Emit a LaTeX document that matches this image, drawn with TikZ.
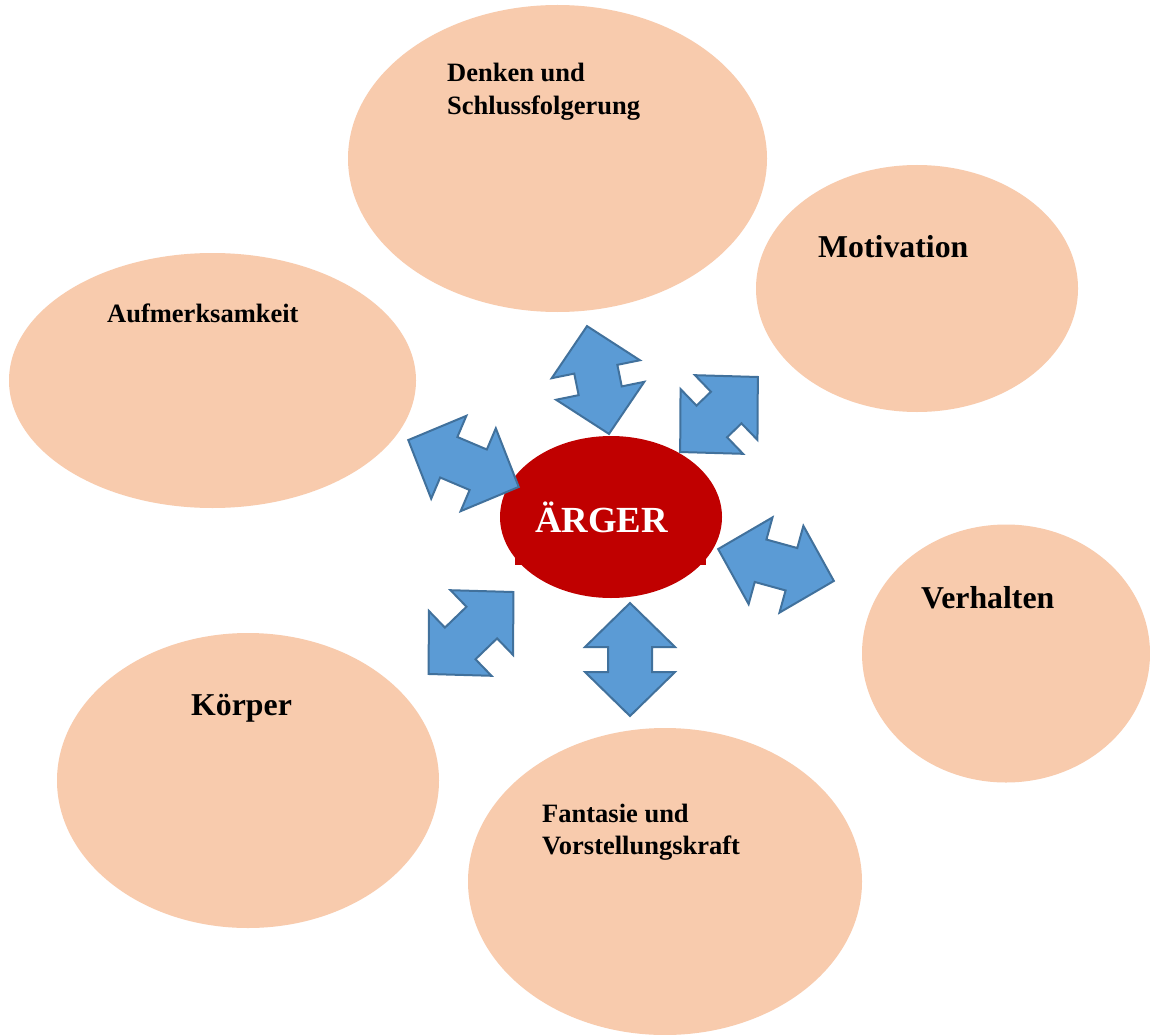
\documentclass[tikz,border=0pt]{standalone}
\usepackage{fontspec}
\setmainfont{Liberation Serif}
\definecolor{peach}{HTML}{F8CBAD}
\definecolor{angerred}{HTML}{C00000}
\definecolor{arrowfill}{HTML}{5B9BD5}
\definecolor{arrowline}{HTML}{41719C}
\tikzset{
  bubble/.style={fill=peach, draw=none},
  lbl/.style={anchor=base west, inner sep=0pt, font=\bfseries\fontsize{26.5}{32.5}\selectfont, align=left},
  biglbl/.style={anchor=base west, inner sep=0pt, font=\bfseries\fontsize{31.8}{36}\selectfont},
  arrowbody/.style={fill=arrowfill, draw=arrowline, line width=2pt, line join=miter},
  pics/dblarrow/.style={code={
    \pgfmathsetmacro\arrhalf{#1/2}
    \draw[arrowbody] (-\arrhalf,0) -- (-\arrhalf+44,45) -- (-\arrhalf+44,22) -- (\arrhalf-44,22)
      -- (\arrhalf-44,45) -- (\arrhalf,0) -- (\arrhalf-44,-45) -- (\arrhalf-44,-22)
      -- (-\arrhalf+44,-22) -- (-\arrhalf+44,-45) -- cycle;
  }}
}
\begin{document}
\begin{tikzpicture}[x=1pt,y=-1pt]
\useasboundingbox (0,0) rectangle (1150,1035);
\fill[white] (0,0) rectangle (1150,1035);
% bubbles
\fill[bubble] (557.5,158.5) ellipse [x radius=209.5, y radius=153.5];
\fill[bubble] (917,288.5) ellipse [x radius=161, y radius=123.5];
\fill[bubble] (212.5,380.5) ellipse [x radius=203.5, y radius=127.5];
\fill[bubble] (1006,653.5) ellipse [x radius=144, y radius=129];
\fill[bubble] (248,780.5) ellipse [x radius=191, y radius=147.5];
\fill[bubble] (665,881.5) ellipse [x radius=197, y radius=153.5];
% labels
\node[lbl] (denken) at (447,82) {\begin{tabular}[t]{@{}l@{}}Denken und\\Schlussfolgerung\end{tabular}};
\node[biglbl] (motiv) at (818,257) {Motivation};
\node[lbl] (aufm) at (107,322) {Aufmerksamkeit};
\node[biglbl] (verh) at (921,608) {Verhalten};
\node[biglbl] (koerp) at (191,715) {Körper};
\node[lbl] (fant) at (542,822) {\begin{tabular}[t]{@{}l@{}}Fantasie und\\Vorstellungskraft\end{tabular}};
% centre
\fill[angerred] (515,478) rectangle (706,565);
\fill[angerred] (611,517) ellipse [x radius=111, y radius=81];
\node[anchor=base west, inner sep=0pt, text=white, font=\bfseries\fontsize{36.8}{40}\selectfont] (aerger) at (535,532) {ÄRGER};
% arrows
\pic[rotate=90] (arrA) at (630,659.5) {dblarrow=113};
\pic[rotate=44] (arrB) at (719,414.5) {dblarrow=108};
\pic[rotate=44] (arrC) at (471,633) {dblarrow=118};
\pic[rotate=101.5] (arrD) at (598,380) {dblarrow=110};
\pic[rotate=-23] (arrE) at (463.5,463.5) {dblarrow=120};
\pic[rotate=-15.4] (arrF) at (776,565) {dblarrow=120};
\end{tikzpicture}
\end{document}
